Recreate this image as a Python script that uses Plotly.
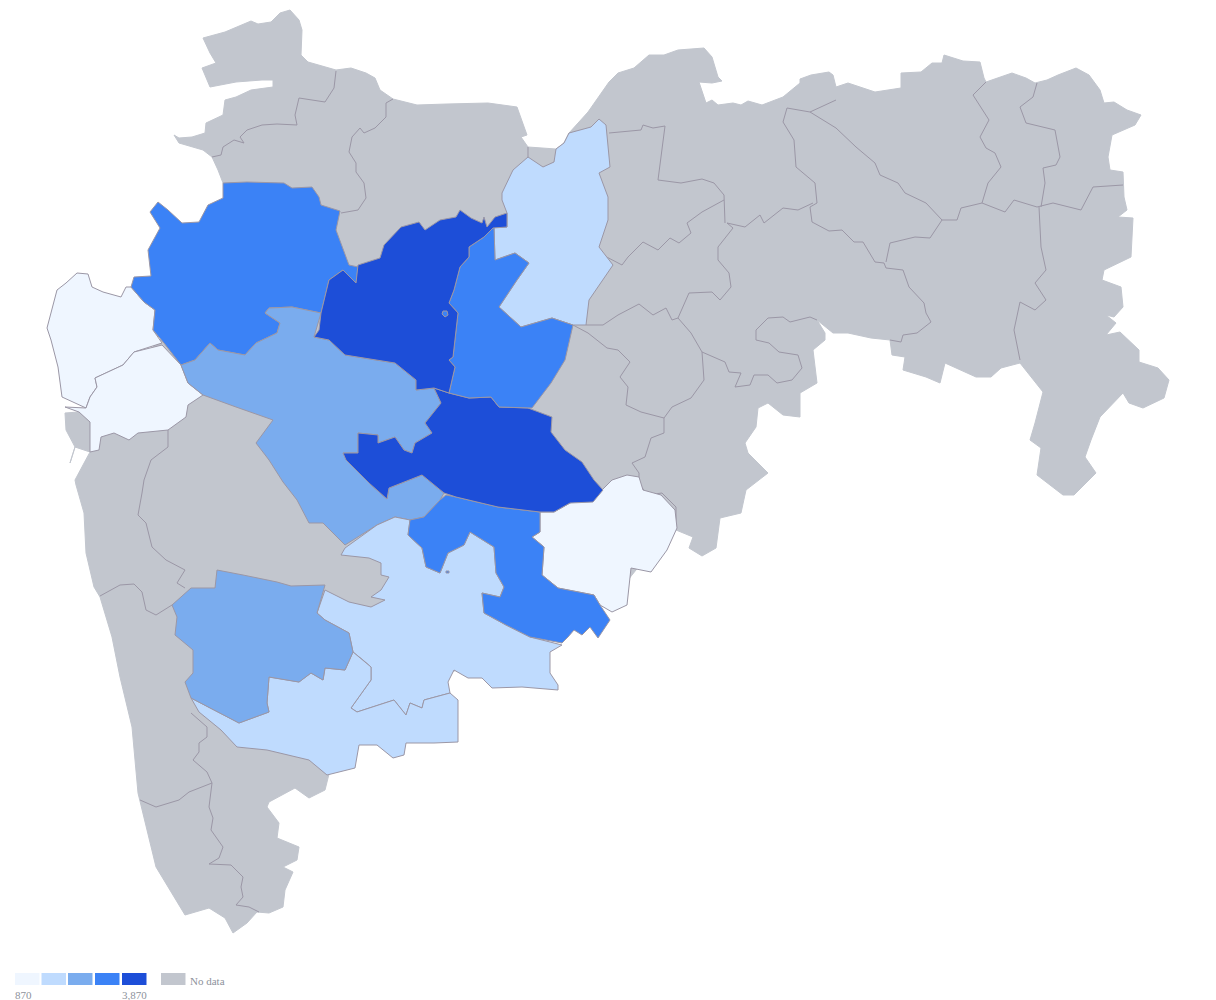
import plotly.graph_objects as go

# ---------- legend / scale ----------
BIN_COLORS = ["#eff6ff", "#bfdbfe", "#7aacee", "#3b82f6", "#1d4ed8"]
NO_DATA_COLOR = "#c2c6ce"
BORDER_COLOR = "#9b97a6"
SCALE_MIN = 870
SCALE_MAX = 3870
TICK_LABELS = ["870", "3,870"]
NO_DATA_LABEL = "No data"

# ---------- state silhouette (no-data base layer) ----------
STATE = [(203,38),(225,32),(251,21),(258,24),(271,22),(280,13),(290,10),(299,20),(302,30),(301,55),(308,62),(336,70),(351,68),(366,73),(375,78),(380,90),(393,99),(406,102),(417,105),(447,104),(488,103),(517,107),(523,123),(527,135),(521,137),(528,147),(556,149),(564,143),(569,133),(588,112),(609,82),(618,73),(634,68),(649,55),(664,55),(678,50),(704,48),(712,57),(718,77),(722,81),(712,83),(699,82),(706,103),(712,100),(718,105),(733,103),(741,105),(748,101),(762,105),(783,97),(800,83),(800,79),(811,75),(829,72),(833,75),(836,87),(848,83),(875,92),(901,88),(901,73),(921,72),(932,63),(942,63),(944,55),(963,61),(980,62),(984,78),(986,82),(1012,73),(1026,78),(1035,83),(1047,80),(1058,75),(1076,68),(1089,75),(1100,90),(1104,103),(1114,102),(1127,110),(1141,115),(1135,125),(1112,135),(1108,157),(1110,170),(1123,172),(1124,197),(1127,210),(1118,217),(1133,218),(1131,257),(1104,270),(1102,280),(1121,287),(1123,307),(1114,317),(1106,315),(1116,323),(1106,335),(1120,332),(1139,350),(1139,362),(1158,368),(1169,380),(1164,398),(1143,408),(1129,403),(1123,393),(1100,417),(1091,440),(1085,457),(1096,473),(1074,495),(1063,495),(1037,475),(1041,448),(1030,440),(1035,423),(1043,392),(1020,363),(1001,368),(991,377),(976,377),(945,363),(940,383),(926,377),(903,370),(905,357),(892,355),(890,340),(871,338),(848,333),(833,333),(817,320),(825,333),(825,340),(813,350),(817,383),(800,393),(800,417),(783,415),(768,403),(758,408),(756,427),(745,443),(748,453),(768,473),(746,490),(741,513),(720,518),(716,548),(702,556),(689,548),(693,537),(676,530),(660,540),(620,590),(550,620),(400,700),(330,770),(325,790),(309,798),(295,788),(269,802),(267,807),(279,823),(277,838),(299,847),(297,860),(283,867),(293,872),(285,890),(283,907),(269,913),(257,912),(247,923),(233,933),(225,918),(209,908),(185,915),(156,867),(138,793),(132,727),(120,677),(112,637),(100,597),(94,587),(86,553),(84,513),(76,485),(75,480),(83,465),(90,452),(75,447),(70,463),(75,447),(66,430),(65,413),(79,412),(120,380),(200,300),(223,200),(230,190),(223,183),(218,170),(212,157),(203,150),(179,143),(174,135),(179,138),(192,137),(205,133),(206,123),(223,115),(225,100),(236,97),(251,90),(273,87),(273,80),(262,80),(236,82),(210,87),(202,68),(216,63),(210,53)]

# ---------- district names, values and outlines ----------
DISTRICTS = ["Palghar", "Thane", "Nashik", "Aurangabad", "Jalna", "Buldhana", "Ahmednagar", "Parbhani",
             "Latur", "Nanded", "Solapur", "Sangli", "Satara"]
VALUES = [870, 1100, 2950, 3870, 2900, 1600, 2350, 3700, 1000, 3000, 1750, 1650, 2300]

PALGHAR = [(77,273),(88,274),(92,287),(103,292),(121,297),(126,287),(131,287),(144,302),(155,310),(153,330),(162,343),(134,352),(123,365),(95,378),(97,387),(90,397),(86,408),(62,397),(58,367),(51,340),(47,328),(57,290),(66,283)]
THANE = [(162,345),(181,365),(188,383),(203,395),(188,405),(186,417),(168,430),(138,433),(129,440),(114,433),(101,437),(99,450),(90,452),(90,422),(79,412),(65,407),(86,408),(90,397),(97,387),(95,378),(123,365),(134,352)]
NASHIK = [(223,183),(247,182),(284,183),(292,188),(312,187),(319,197),(321,205),(340,211),(336,230),(349,265),(358,267),(356,283),(343,270),(329,280),(321,313),(292,307),(269,308),(265,313),(280,323),(277,333),(256,343),(245,355),(218,350),(210,343),(195,360),(181,365),(164,343),(153,330),(155,310),(144,302),(131,287),(134,277),(151,276),(148,250),(160,228),(150,212),(158,202),(168,210),(182,223),(199,222),(208,205),(223,198)]
AURANGABAD = [(314,337),(319,330),(321,313),(329,280),(343,270),(356,283),(358,265),(380,258),(384,245),(401,227),(419,222),(425,230),(440,220),(456,217),(460,210),(471,218),(482,223),(484,217),(487,227),(495,217),(507,213),(507,227),(493,228),(484,237),(469,247),(469,257),(460,267),(454,290),(449,303),(458,313),(453,357),(449,360),(455,367),(449,393),(434,388),(416,390),(416,380),(395,363),(345,355),(329,340)]
JALNA = [(449,393),(455,367),(449,360),(453,357),(458,313),(449,303),(454,290),(460,267),(469,257),(469,247),(484,237),(486,227),(494,227),(495,260),(515,253),(529,263),(517,280),(499,307),(521,327),(552,318),(573,325),(565,360),(551,383),(532,408),(499,407),(491,397),(469,398)]
BULDHANA = [(599,119),(606,125),(610,167),(599,173),(608,197),(608,220),(599,247),(613,265),(589,300),(586,325),(573,325),(552,318),(521,327),(499,307),(517,280),(529,263),(515,253),(495,260),(494,227),(507,227),(507,213),(502,200),(502,193),(513,170),(528,157),(543,167),(554,162),(556,149),(564,143),(569,133),(591,127)]
AHMEDNAGAR = [(181,365),(195,360),(210,343),(218,350),(245,355),(256,343),(277,333),(280,323),(265,313),(269,308),(292,307),(321,313),(314,337),(329,340),(345,355),(395,363),(416,380),(416,390),(434,388),(441,403),(425,423),(432,433),(415,443),(412,453),(404,450),(395,437),(378,443),(378,435),(358,433),(358,453),(343,453),(353,465),(369,483),(387,499),(389,488),(410,480),(422,475),(444,493),(440,500),(424,517),(410,520),(395,517),(377,525),(345,545),(323,523),(309,523),(297,500),(283,482),(269,460),(256,443),(273,420),(236,407),(203,395),(188,383)]
PARBHANI = [(449,393),(469,398),(491,397),(499,407),(528,408),(552,417),(551,432),(565,450),(582,462),(594,480),(603,490),(593,502),(570,503),(554,512),(540,512),(498,507),(456,497),(444,493),(422,475),(410,480),(389,488),(387,499),(369,483),(346,460),(343,453),(358,453),(358,433),(378,435),(378,443),(395,437),(404,450),(412,453),(415,443),(432,433),(425,423),(441,403),(434,388)]
LATUR = [(627,475),(639,477),(643,490),(661,495),(675,510),(677,528),(667,550),(651,572),(631,568),(627,605),(612,612),(600,605),(594,595),(558,588),(542,575),(544,547),(532,537),(540,532),(540,512),(554,512),(570,503),(600,492),(612,480)]
NANDED = [(446,495),(456,497),(498,507),(540,512),(540,532),(532,537),(544,547),(542,575),(558,588),(594,595),(600,605),(610,620),(598,638),(590,627),(582,635),(574,630),(568,637),(562,643),(530,637),(506,625),(484,613),(482,593),(500,597),(504,587),(496,573),(494,547),(470,532),(464,545),(448,553),(440,573),(426,567),(422,548),(408,535),(410,520),(424,517),(440,500)]
SOLAPUR = [(345,548),(341,555),(369,558),(381,563),(381,575),(389,577),(381,590),(371,597),(385,600),(371,607),(349,602),(325,590),(317,613),(325,620),(349,633),(353,652),(363,660),(371,667),(371,680),(351,708),(357,712),(394,700),(406,715),(410,703),(422,708),(424,700),(450,693),(448,682),(454,670),(468,678),(482,678),(492,688),(522,687),(558,690),(558,685),(550,673),(550,652),(562,645),(530,637),(506,625),(484,613),(482,593),(500,597),(504,587),(496,573),(494,547),(470,532),(464,545),(448,553),(440,573),(426,567),(422,548),(408,535),(410,520),(395,517),(377,525)]
SANGLI = [(191,698),(239,723),(269,712),(267,703),(269,677),(299,682),(311,673),(323,680),(325,668),(345,670),(353,652),(363,660),(371,667),(371,680),(351,708),(357,712),(394,700),(406,715),(410,703),(422,708),(424,700),(450,693),(458,700),(458,742),(434,743),(406,743),(404,755),(393,758),(377,745),(359,745),(355,768),(327,775),(309,760),(267,750),(237,747),(221,730),(199,712)]
SATARA = [(172,605),(191,588),(215,588),(217,570),(243,575),(277,582),(291,586),(325,585),(317,613),(325,620),(349,633),(353,652),(345,670),(325,668),(323,680),(311,673),(299,682),(269,677),(267,703),(269,712),(239,723),(191,698),(185,682),(193,673),(193,650),(175,635),(177,617)]
JALNA_ENCLAVE = [(443,311),(447,311),(448,315),(445,317),(442,314)]
NANDED_ENCLAVE = [(446,571),(449,571),(449,573),(446,573)]

OUTLINES = [PALGHAR, THANE, NASHIK, AHMEDNAGAR, SOLAPUR, SANGLI, SATARA, LATUR, NANDED, PARBHANI, BULDHANA, JALNA, AURANGABAD, JALNA_ENCLAVE, NANDED_ENCLAVE]
ORDER_NAMES = ["Palghar", "Thane", "Nashik", "Ahmednagar", "Solapur", "Sangli", "Satara", "Latur", "Nanded", "Parbhani", "Buldhana", "Jalna", "Aurangabad", "Jalna", "Nanded"]

# ---------- internal borders between no-data districts ----------
BORDERS = [
    [(336,71),(334,88),(325,102),(310,100),(299,98),(295,115),(297,125),(277,124),(262,125),(247,130),(240,137),(244,143),(234,140),(223,147),(221,155),(212,157)],
    [(393,99),(386,103),(386,117),(375,128),(364,133),(360,128),(352,137),(349,152),(356,163),(356,172),(364,183),(366,198),(358,210),(341,213)],
    [(528,147),(528,157)],
    [(609,133),(641,130),(643,125),(653,128),(665,126),(662,147),(660,163),(658,180),(681,183),(702,179),(714,183),(724,195),(725,223)],
    [(724,200),(702,212),(687,223),(691,233),(679,243),(670,238),(658,250),(643,242),(628,257),(622,265),(599,253)],
    [(727,223),(745,227),(760,215),(764,223),(783,208),(798,210),(813,203)],
    [(727,223),(733,228),(718,247),(718,260),(729,273),(731,287),(720,300),(712,292),(689,293),(678,318)],
    [(586,325),(603,325),(618,315),(639,304),(653,315),(666,308),(672,320),(678,318),(691,333),(702,352),(725,362),(729,372),(741,373),(735,387),(750,385),(754,375),(768,375),(777,383),(792,380),(802,368),(798,355),(779,352),(769,343),(756,340),(756,330),(768,318),(783,317),(790,322),(810,317),(817,320)],
    [(702,352),(704,380),(691,398),(672,407),(664,418),(641,412),(626,405),(628,387),(620,377),(630,362),(618,350),(607,348),(588,333),(573,325)],
    [(664,418),(664,433),(651,438),(645,457),(632,463),(639,473),(639,483),(647,495),(662,493),(676,507),(676,530)],
    [(810,112),(787,108),(783,122),(794,140),(796,167),(815,183),(817,203),(810,207),(812,222),(829,231),(842,230),(854,242),(863,242),(875,262),(884,263),(886,268),(903,270),(909,287),(924,303),(926,313),(931,322),(917,333),(903,335),(901,342),(890,340)],
    [(836,100),(810,112),(836,128),(856,147),(875,163),(880,175),(898,183),(905,193),(926,203),(942,220),(930,238),(915,237),(890,243),(886,262)],
    [(942,220),(957,220),(961,208),(982,203),(1005,212),(1014,200),(1037,207),(1053,203),(1081,210),(1093,187),(1123,185)],
    [(986,82),(973,95),(989,120),(980,137),(986,148),(995,153),(1001,167),(988,183),(982,203)],
    [(1037,83),(1033,97),(1020,107),(1026,123),(1055,130),(1060,157),(1056,165),(1043,168),(1045,183),(1041,207)],
    [(1039,207),(1041,247),(1046,270),(1035,283),(1046,300),(1035,310),(1020,302),(1014,330),(1020,360)],
    [(168,430),(168,447),(151,460),(144,480),(142,493),(138,515),(146,523),(152,547),(166,560),(185,570),(177,583),(185,588)],
    [(100,596),(120,585),(134,584),(142,592),(146,610),(156,615),(172,605)],
    [(191,713),(207,727),(207,737),(199,743),(199,752),(193,760),(207,772),(212,783),(189,792),(179,800),(156,807),(140,800)],
    [(212,783),(209,807),(213,818),(211,830),(223,847),(219,858),(209,864),(231,865),(243,877),(241,887),(243,897),(236,905),(249,907),(259,912)],
]

def bin_color(v):
    step = (SCALE_MAX - SCALE_MIN) / len(BIN_COLORS)
    return BIN_COLORS[min(int((v - SCALE_MIN) / step), len(BIN_COLORS) - 1)]

def closed(pts):
    return [p[0] for p in pts] + [pts[0][0]], [p[1] for p in pts] + [pts[0][1]]

fig = go.Figure()

sx, sy = closed(STATE)
fig.add_trace(go.Scatter(x=sx, y=sy, mode="lines", fill="toself", fillcolor=NO_DATA_COLOR,
                         line=dict(color=NO_DATA_COLOR, width=1), hoverinfo="skip", showlegend=False))

for b in BORDERS:
    fig.add_trace(go.Scatter(x=[p[0] for p in b], y=[p[1] for p in b], mode="lines",
                             line=dict(color=BORDER_COLOR, width=1), hoverinfo="skip", showlegend=False))

value_by_name = dict(zip(DISTRICTS, VALUES))
for name, pts in zip(ORDER_NAMES, OUTLINES):
    x, y = closed(pts)
    fig.add_trace(go.Scatter(x=x, y=y, mode="lines", fill="toself", fillcolor=bin_color(value_by_name[name]),
                             line=dict(color=BORDER_COLOR, width=1), name=name,
                             hovertemplate=f"{name}: {value_by_name[name]:,}<extra></extra>", showlegend=False))

# legend
SWATCH_LEFT = [15, 41.5, 68, 95, 122]
SWATCH_W = 24.5
shapes = [dict(type="rect", x0=x0, x1=x0 + SWATCH_W, y0=973, y1=985, fillcolor=c, line=dict(width=0))
          for x0, c in zip(SWATCH_LEFT, BIN_COLORS)]
shapes.append(dict(type="rect", x0=161, x1=185.5, y0=973, y1=985, fillcolor=NO_DATA_COLOR, line=dict(width=0)))
font = dict(family="Liberation Serif", size=11, color="#8d929b")
annotations = [
    dict(x=14, y=994.5, text=TICK_LABELS[0], showarrow=False, xanchor="left", yanchor="middle", font=font, borderpad=0),
    dict(x=147.5, y=994.5, text=TICK_LABELS[1], showarrow=False, xanchor="right", yanchor="middle", font=font, borderpad=0),
    dict(x=189, y=981, text=NO_DATA_LABEL, showarrow=False, xanchor="left", yanchor="middle", font=font, borderpad=0),
]

fig.update_layout(width=1216, height=1000, margin=dict(l=0, r=0, t=0, b=0), plot_bgcolor="white", paper_bgcolor="white",
                  xaxis=dict(visible=False, range=[0, 1216], fixedrange=True),
                  yaxis=dict(visible=False, range=[1000, 0], fixedrange=True),
                  shapes=shapes, annotations=annotations)

fig.write_html("out.html", config={"displayModeBar": False},
               post_script="document.body.style.margin='0';document.documentElement.style.overflow='hidden';")
